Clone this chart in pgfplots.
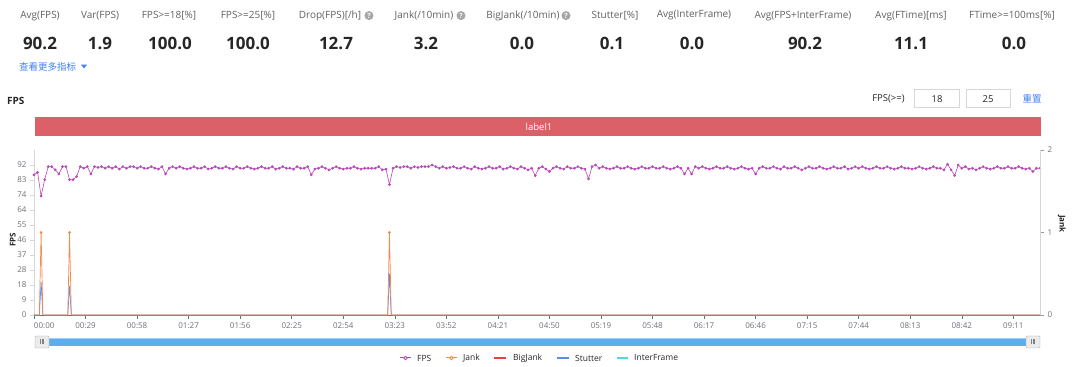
\documentclass[border=0pt]{standalone}
\usepackage{pgfplots}
\pgfplotsset{compat=1.18}
\usepackage{fontspec}
\setmainfont{Open Sans}
\newfontfamily\cjk{Noto Sans CJK SC}
\definecolor{fpsc}{RGB}{186,72,186}
\definecolor{jankc}{RGB}{245,137,74}
\definecolor{bigjankc}{HTML}{E8403A}
\definecolor{stutterc}{HTML}{5A8DF0}
\definecolor{interc}{HTML}{50D7E1}
\definecolor{barred}{RGB}{220,96,104}
\definecolor{lblgray}{RGB}{96,96,96}
\definecolor{valc}{RGB}{38,38,38}
\definecolor{linkblue}{RGB}{64,128,240}
\definecolor{tickc}{RGB}{110,112,121}
\definecolor{axlight}{RGB}{215,215,215}
\definecolor{sliderc}{RGB}{91,174,238}
\begin{document}
\begin{tikzpicture}[x=1pt,y=1pt,
  lbl/.style={font=\fontsize{10}{12}\selectfont, text=lblgray, inner sep=0pt, anchor=center},
  val/.style={font=\fontsize{17}{20}\selectfont\bfseries, text=valc, inner sep=0pt, anchor=center},
  leg/.style={font=\fontsize{8.5}{10}\selectfont, text=valc, inner sep=0pt, anchor=west},
  qicon/.style={circle, fill=black!35, text=white, inner sep=0pt, minimum size=9pt, font=\fontsize{7}{7}\selectfont\bfseries}]
\useasboundingbox (0,0) rectangle (1080,367);
% ---------- header ----------
\node[lbl] at (40,351.4) {Avg(FPS)};
\node[lbl] at (100,351.4) {Var(FPS)};
\node[lbl] at (169,351.4) {FPS>=18[\%]};
\node[lbl] at (248,351.4) {FPS>=25[\%]};
\node[lbl] at (330,351.4) {Drop(FPS)[/h]};
\node[qicon] at (369,351.4) {?};
\node[lbl] at (424,351.4) {Jank(/10min)};
\node[qicon] at (461,351.4) {?};
\node[lbl] at (523,351.4) {BigJank(/10min)};
\node[qicon] at (566,351.4) {?};
\node[lbl] at (615,351.4) {Stutter[\%]};
\node[lbl] at (694,351.4) {Avg(InterFrame)};
\node[lbl] at (803,351.4) {Avg(FPS+InterFrame)};
\node[lbl] at (911,351.4) {Avg(FTime)[ms]};
\node[lbl] at (1012,351.4) {FTime>=100ms[\%]};
\node[val] at (40,323.4) {90.2};
\node[val] at (100,323.4) {1.9};
\node[val] at (170,323.4) {100.0};
\node[val] at (248,323.4) {100.0};
\node[val] at (336,323.4) {12.7};
\node[val] at (426,323.4) {3.2};
\node[val] at (522,323.4) {0.0};
\node[val] at (612,323.4) {0.1};
\node[val] at (692,323.4) {0.0};
\node[val] at (805,323.4) {90.2};
\node[val] at (911,323.4) {11.1};
\node[val] at (1014,323.4) {0.0};
\node[anchor=west, inner sep=0pt, text=linkblue, font=\cjk\fontsize{9.5}{11}\selectfont] at (19,300.5) {查看更多指标};
\fill[linkblue] (81,302.3) -- (87,302.3) -- (84,298.6) -- cycle;
% ---------- chart title and controls ----------
\node[anchor=west, inner sep=0pt, text=valc, font=\fontsize{10}{12}\selectfont\bfseries] at (7,266) {FPS};
\node[anchor=center, inner sep=0pt, text=valc, font=\fontsize{9.5}{11}\selectfont] at (888.5,268) {FPS(>=)};
\draw[axlight, fill=white] (914,259.5) rectangle (959,277.5);
\node[anchor=center, inner sep=0pt, text=valc, font=\fontsize{9.5}{11}\selectfont] at (937,268.3) {18};
\draw[axlight, fill=white] (966,259.5) rectangle (1010,277.5);
\node[anchor=center, inner sep=0pt, text=valc, font=\fontsize{9.5}{11}\selectfont] at (988,268.3) {25};
\node[anchor=center, inner sep=0pt, text=linkblue, font=\cjk\fontsize{9.5}{11}\selectfont] at (1032,268) {重置};
\fill[barred] (35,231) rectangle (1041,250);
\node[anchor=center, inner sep=0pt, text=white, font=\fontsize{9.5}{11}\selectfont] at (539,240.5) {label1};
% ---------- main axis (FPS) ----------
\begin{axis}[
  at={(34pt,52pt)}, anchor=south west, scale only axis,
  width=1006pt, height=165pt,
  xmin=0, xmax=566, ymin=0, ymax=101.2, clip=false,
  axis x line*=bottom, axis y line*=left,
  x axis line style={draw=tickc, -}, y axis line style={draw=axlight, -},
  tick align=outside, major tick length=4pt,
  xtick={0,29,...,551},
  xticklabels={\rlap{00:00},00:29,00:58,01:27,01:56,02:25,02:54,03:23,03:52,04:21,04:50,05:19,05:48,06:17,06:46,07:15,07:44,08:13,08:42,09:11},
  ytick={0,9.2,18.4,27.6,36.8,46,55.2,64.4,73.6,82.8,92},
  yticklabels={0,9,18,28,37,46,55,64,74,83,92},
  xtick style={draw=tickc, line width=0.5pt},
  ytick style={draw=axlight, line width=0.5pt},
  ticklabel style={font=\fontsize{8}{9}\selectfont, text=tickc},
  /pgf/number format/assume math mode=true,
  ylabel={FPS},
  ylabel style={at={(axis description cs:-0.0212,0.455)}, anchor=center, font=\fontsize{8}{9}\selectfont\bfseries, text=valc},
]
\addplot[color=fpsc, line width=0.6pt, mark=*, mark size=1.05pt, mark options={fill=fpsc, draw=fpsc}] coordinates {
(0,86)(2,87.5)(4,73)(6,83)(8,91)(10,91)(12,89)(14,86.5)(16,91)(18,91)(20,83)(22,83)(24,85)(26,91)(28,90)(30,91)(32,86.5)(34,91)(36,90.5)(38,91)
(40,90)(42,91)(44,90)(46,91)(48,89.5)(50,91)(52,90)(54,91)(56,91)(58,90)(60,91)(62,90)(64,90)(66,91)(68,90)(70,89.5)(72,91)(74,86.5)(76,90)(78,91)
(80,90)(82,91)(84,90)(86,89.5)(88,90)(90,91)(92,90)(94,90)(96,91)(98,89.5)(100,90)(102,91)(104,90)(106,90)(108,91)(110,90)(112,89.5)(114,91)(116,90)(118,90)
(120,91)(122,90)(124,89.5)(126,90)(128,91)(130,90)(132,90)(134,91)(136,89.5)(138,90)(140,91)(142,90)(144,90)(146,89.5)(148,91)(150,90)(152,90)(154,91)(156,86)(158,89.5)
(160,90)(162,91)(164,90)(166,89)(168,90)(170,91)(172,90)(174,89.5)(176,90)(178,90)(180,91)(182,90)(184,89.5)(186,90)(188,90)(190,90)(192,90)(194,91)(196,89)(198,89.5)
(200,80)(202,90)(204,91)(206,90.5)(208,91)(210,91)(212,90)(214,91)(216,90.5)(218,91)(220,91)(222,91)(224,92)(226,91)(228,90)(230,91)(232,90)(234,90.5)(236,91)(238,90)
(240,90)(242,91)(244,90)(246,89.5)(248,91)(250,90)(252,89.5)(254,90)(256,91)(258,90)(260,90)(262,91)(264,89.5)(266,90)(268,91)(270,90)(272,89.5)(274,91)(276,90)(278,89)
(280,90)(282,85.5)(284,90)(286,91)(288,89.5)(290,88)(292,90)(294,91)(296,90)(298,89.5)(300,91)(302,90)(304,90)(306,91)(308,90)(310,89.5)(312,83.5)(314,91)(316,92)(318,90)
(320,91)(322,90)(324,89.5)(326,90)(328,91)(330,90)(332,90)(334,91)(336,90)(338,89.5)(340,90)(342,91)(344,90)(346,90)(348,91)(350,90)(352,90)(354,91)(356,90)(358,89.5)
(360,90)(362,91)(364,90)(366,86.5)(368,90)(370,86.5)(372,91)(374,90)(376,91)(378,90)(380,89.5)(382,90)(384,91)(386,90)(388,90)(390,91)(392,90)(394,89.5)(396,90)(398,91)
(400,90)(402,89.5)(404,90)(406,86.5)(408,90)(410,91)(412,90)(414,90)(416,91)(418,90)(420,89.5)(422,91)(424,90)(426,90)(428,91)(430,90)(432,89)(434,90)(436,91)(438,90)
(440,90)(442,91)(444,90)(446,89.5)(448,90)(450,91)(452,90)(454,90)(456,91)(458,89.5)(460,90)(462,91)(464,90)(466,91)(468,90)(470,89.5)(472,90)(474,91)(476,90)(478,90)
(480,91)(482,90)(484,89.5)(486,90)(488,91)(490,90)(492,90)(494,89.5)(496,90)(498,91)(500,90)(502,89.5)(504,90)(506,91)(508,90)(510,90)(512,89)(514,92.5)(516,89)(518,85.5)
(520,92)(522,90)(524,91)(526,89.5)(528,90)(530,89)(532,90)(534,91)(536,90)(538,89.5)(540,90)(542,91)(544,90)(546,90)(548,91)(550,90)(552,90)(554,91)(556,90)(558,89.5)
(560,90)(562,88)(564,90)(566,90)
};
\end{axis}
% ---------- secondary axis (Jank etc.) ----------
\begin{axis}[
  at={(34pt,52pt)}, anchor=south west, scale only axis,
  width=1006pt, height=165pt,
  xmin=0, xmax=566, ymin=0, ymax=2, clip=false,
  axis x line=none, axis y line*=right,
  y axis line style={draw=axlight, -},
  tick align=outside, major tick length=4pt,
  ytick={0,1,2},
  ytick style={draw=tickc!70, line width=0.5pt},
  yticklabel style={font=\fontsize{8}{9}\selectfont, text=tickc},
  /pgf/number format/assume math mode=true,
  ylabel={Jank},
  ylabel style={at={(axis description cs:1.0216,0.5515)}, anchor=center, rotate=180, font=\fontsize{8}{9}\selectfont\bfseries, text=valc},
]
\addplot[draw=interc, line width=0.8pt] coordinates {(0,0)(566,0)};
\addplot[draw=bigjankc, line width=0.8pt] coordinates {(0,0)(566,0)};
\addplot[draw=stutterc, line width=0.7pt] coordinates {(0,0)(3,0)(4,0.4)(5,0)(19,0)(20,0.35)(21,0)(199,0)(200,0.5)(201,0)(566,0)};
\addplot[draw=jankc, line width=0.7pt, mark=*, mark size=1pt, mark indices={3,6,9}, mark options={fill=jankc, draw=jankc}] coordinates {(0,0)(3,0)(4,1)(5,0)(19,0)(20,1)(21,0)(199,0)(200,1)(201,0)(566,0)};
\end{axis}
% ---------- legend ----------
\draw[draw=fpsc, line width=1pt] (400,9) -- (411,9);
\draw[draw=fpsc, fill=white, line width=0.8pt] (405.5,9) circle (1.8);
\node[leg] at (417,9) {FPS};
\draw[draw=jankc, line width=1pt] (446,9) -- (457,9);
\draw[draw=jankc, fill=white, line width=0.8pt] (451.5,9) circle (1.8);
\node[leg] at (463,9) {Jank};
\draw[draw=bigjankc, line width=1.6pt] (494,9) -- (506,9);
\node[leg] at (513,9) {BigJank};
\draw[draw=stutterc, line width=1.6pt] (557,9) -- (569,9);
\node[leg] at (575,9) {Stutter};
\draw[draw=interc, line width=1.6pt] (617,9) -- (628,9);
\node[leg] at (634,9) {InterFrame};
% ---------- slider ----------
\fill[sliderc] (35,21) rectangle (1040,29);
\fill[sliderc!60!white] (35,27.5) rectangle (1040,29);
\foreach \hx in {35,1026}{
  \draw[black!35, fill=black!8, rounded corners=1.2pt] (\hx,19) rectangle ++(14,12);
  \draw[black!50, line width=0.5pt] (\hx+5.5,22.5) -- ++(0,5) (\hx+7,22.5) -- ++(0,5) (\hx+8.5,22.5) -- ++(0,5);
}
\end{tikzpicture}
\end{document}
